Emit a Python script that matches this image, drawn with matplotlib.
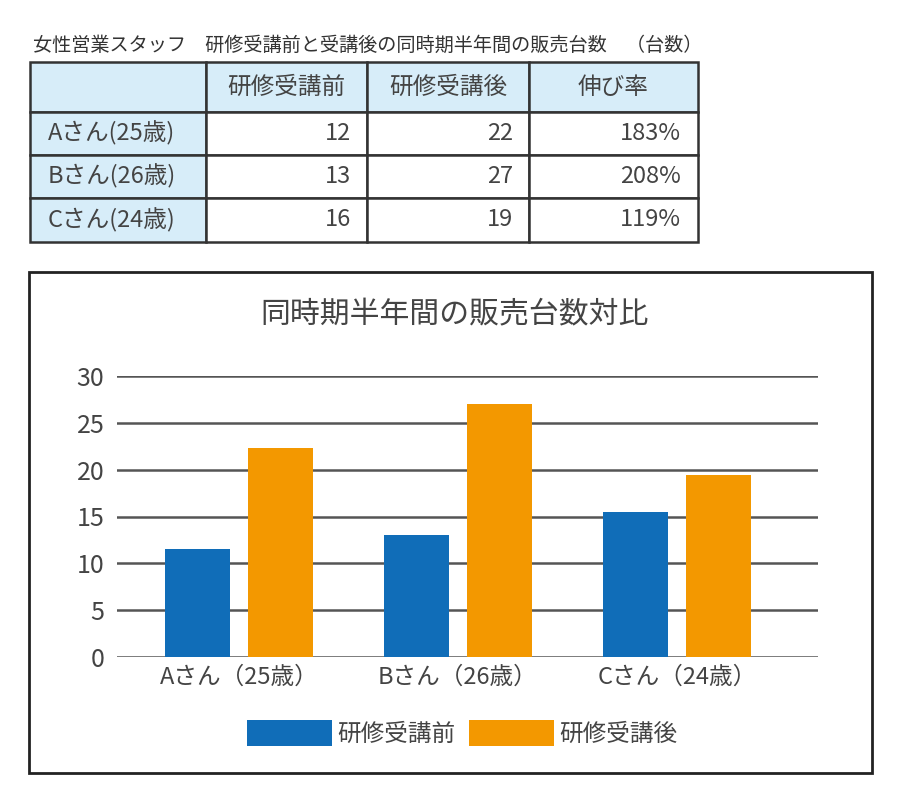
import matplotlib
matplotlib.use("Agg")
import matplotlib.pyplot as plt
from matplotlib.patches import Rectangle, Patch

plt.rcParams['font.family'] = ['Noto Sans CJK JP', 'DejaVu Sans']

# ---- data ----
people = ["Aさん（25歳）", "Bさん（26歳）", "Cさん（24歳）"]
table_people = ["Aさん(25歳)", "Bさん(26歳)", "Cさん(24歳)"]
series_names = ["研修受講前", "研修受講後"]
before_vals = [11.5, 13.0, 15.5]
after_vals = [22.3, 27.0, 19.4]
table_before = [12, 13, 16]
table_after = [22, 27, 19]
growth = ["183%", "208%", "119%"]
table_header = ["", "研修受講前", "研修受講後", "伸び率"]
table_title = "女性営業スタッフ　研修受講前と受講後の同時期半年間の販売台数　（台数）"
chart_title = "同時期半年間の販売台数対比"
yticks = [0, 5, 10, 15, 20, 25, 30]

BLUE = "#106db8"
ORANGE = "#f39800"
TXT = "#444444"
CELLBG = "#d7edf9"

W, H = 900, 786
fig = plt.figure(figsize=(W / 100, H / 100), dpi=100)
fig.patch.set_facecolor("white")


def fx(px):
    return px / W


def fy(py):
    return 1 - py / H


# ---- table title ----
fig.text(fx(33), fy(45), table_title, fontsize=13.8, color="#333333",
         ha="left", va="center")

# ---- table ----
tl, tr, tt, tb = 30, 698, 62, 242
tax = fig.add_axes([fx(tl), fy(tb), fx(tr - tl), (tb - tt) / H])
tax.axis("off")
rows = [table_header] + [[p, str(b), str(a), g] for p, b, a, g in
                          zip(table_people, table_before, table_after, growth)]
col_w = [176, 161, 162, 169]
tbl = tax.table(cellText=rows, colWidths=[c / sum(col_w) for c in col_w],
                bbox=[0, 0, 1, 1], cellLoc="right")
tbl.auto_set_font_size(False)
row_h = [50, 43, 43, 44]
for (r, c), cell in tbl.get_celld().items():
    cell.set_height(row_h[r] / sum(row_h))
    cell.set_edgecolor("#333333")
    cell.set_linewidth(1.8)
    txt = cell.get_text()
    txt.set_fontsize(17)
    txt.set_color(TXT)
    if r == 0 or c == 0:
        cell.set_facecolor(CELLBG)
    else:
        cell.set_facecolor("white")
    if r == 0:
        txt.set_ha("center")
        cell._loc = "center"
    elif c == 0:
        cell._loc = "left"
        txt.set_ha("left")
    else:
        cell._loc = "right"
        txt.set_ha("right")

# ---- chart frame ----
fig.patches.append(Rectangle((fx(29), fy(773)), fx(872 - 29), (773 - 272) / H,
                             transform=fig.transFigure, fill=False,
                             edgecolor="#222222", linewidth=2))
fig.text(0.505, fy(315), chart_title, fontsize=21.5, color=TXT,
         ha="center", va="center")

# ---- bar chart ----
ax = fig.add_axes([fx(117), fy(657), fx(818 - 117), (657 - 376) / H])
x = list(range(len(people)))
bw = 0.297
off = 0.19
ax.bar([i - off for i in x], before_vals, width=bw, color=BLUE, zorder=3)
ax.bar([i + off for i in x], after_vals, width=bw, color=ORANGE, zorder=3)
ax.set_xlim(-0.557, 2.644)
ax.set_ylim(0, 30)
ax.set_yticks(yticks)
ax.set_xticks(x)
ax.set_xticklabels(people)
ax.set_axisbelow(True)
ax.yaxis.grid(True, color="#555555", linewidth=1.8)
for s in ax.spines.values():
    s.set_visible(False)
ax.tick_params(axis="both", length=0, colors=TXT)
ax.tick_params(axis="y", labelsize=18, pad=9)
ax.tick_params(axis="x", labelsize=17, pad=6)
ax.set_facecolor("none")

handles = [Patch(facecolor=BLUE), Patch(facecolor=ORANGE)]
fig.legend(handles, series_names, loc="center", bbox_to_anchor=(fx(462), fy(733)),
           ncol=2, frameon=False, fontsize=17, handlelength=3.6,
           handleheight=1.3, handletextpad=0.2, columnspacing=0.6,
           labelcolor=TXT)

fig.savefig("out.png", dpi=100, facecolor="white")
